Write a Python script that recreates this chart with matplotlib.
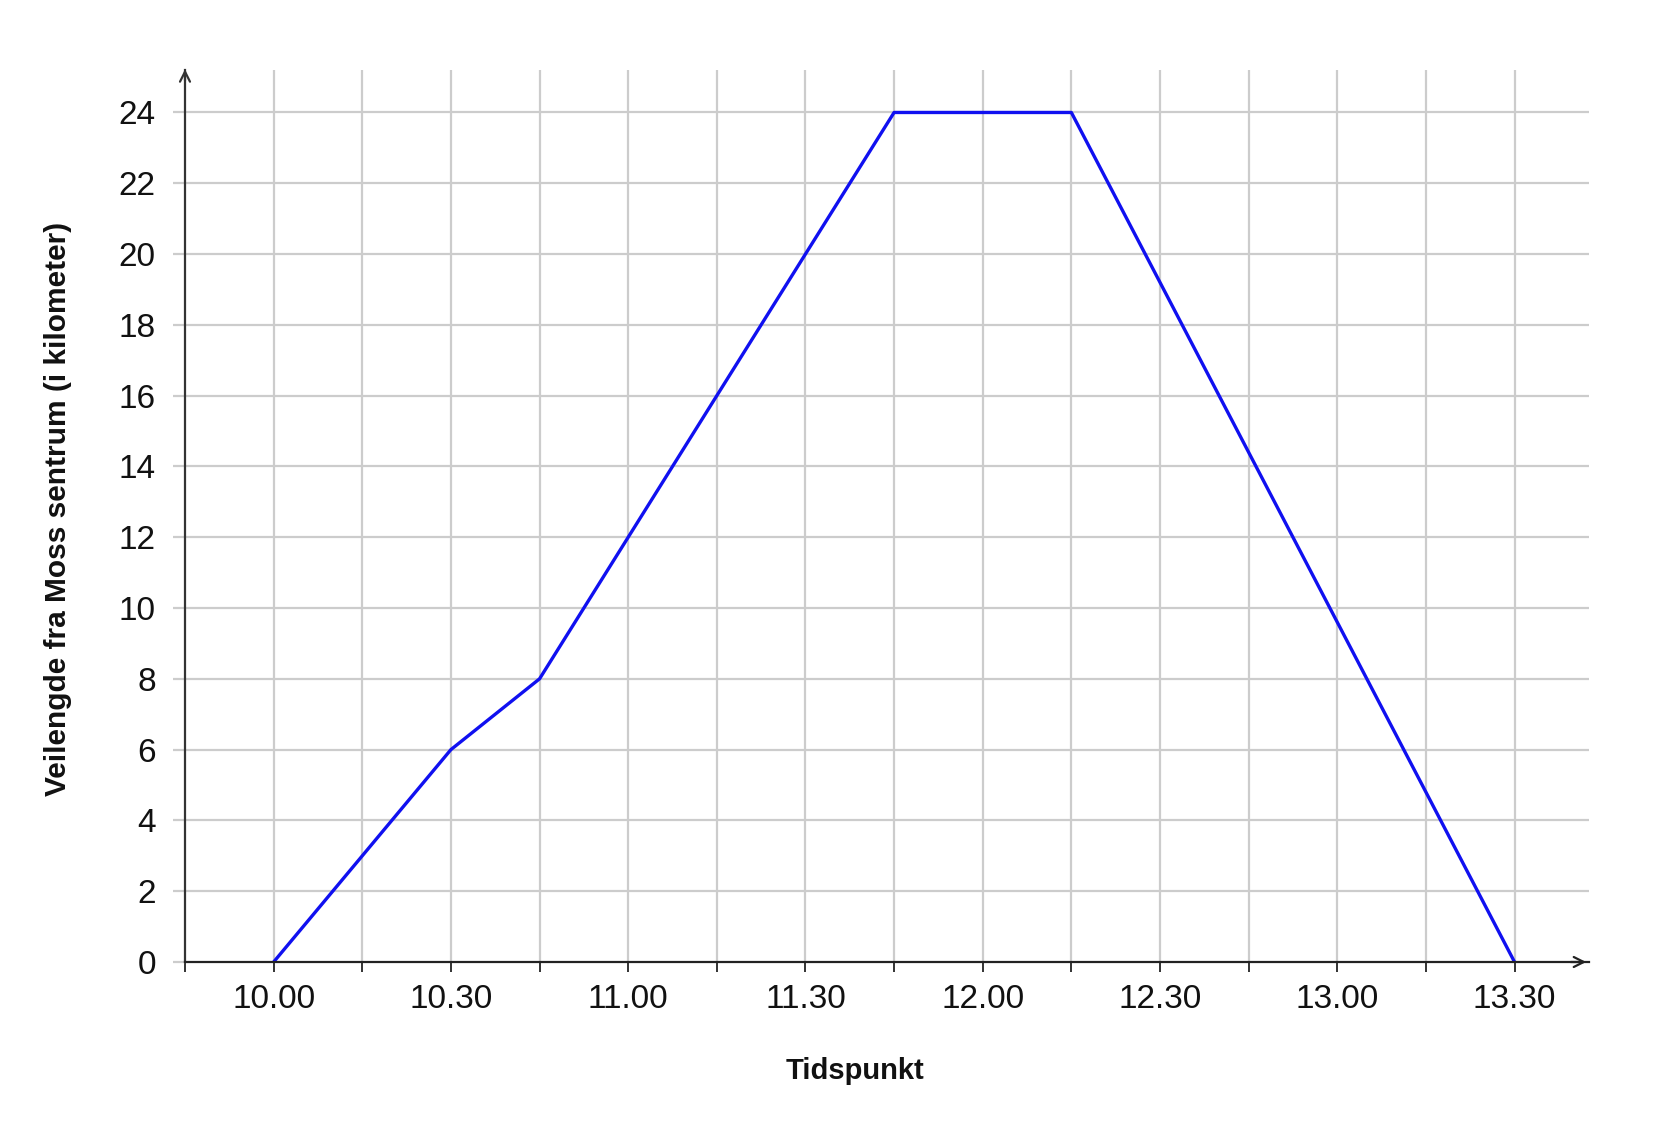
import matplotlib
matplotlib.use("Agg")
import matplotlib.pyplot as plt
import numpy as np

# Data
time_hours = [10.0, 10.5, 10.75, 11.75, 12.25, 13.5]
distance_km = [0, 6, 8, 24, 24, 0]
xtick_pos = [10.0, 10.5, 11.0, 11.5, 12.0, 12.5, 13.0, 13.5]
xtick_labels = ["10.00", "10.30", "11.00", "11.30", "12.00", "12.30", "13.00", "13.30"]
ytick_vals = list(range(0, 25, 2))

plt.rcParams['font.family'] = ['Liberation Sans', 'DejaVu Sans']

W, H = 1665, 1125
fig = plt.figure(figsize=(W/100, H/100), dpi=100)
fig.patch.set_facecolor('white')
left, right = 185/W, 1589/W
bottom, top = 1 - 962/H, 1 - 70/H
ax = fig.add_axes([left, bottom, right-left, top-bottom])

xmin, xmax = 9.75, 13.71
ymin, ymax = 0, 25.2
ax.set_xlim(xmin, xmax)
ax.set_ylim(ymin, ymax)

# grid
minor_x = np.arange(10.0, 13.51, 0.25)
for xv in minor_x:
    ax.axvline(xv, color='#cccccc', lw=1.6, zorder=1)
for yv in ytick_vals[1:]:
    ax.axhline(yv, color='#cccccc', lw=1.6, zorder=1)

ax.plot(time_hours, distance_km, color='#1010f0', lw=2.4, zorder=3, solid_capstyle='butt')

for s in ['top', 'right']:
    ax.spines[s].set_visible(False)
ax.spines['left'].set_color('#333333')
ax.spines['bottom'].set_color('#222222')
ax.spines['left'].set_linewidth(1.6)
ax.spines['bottom'].set_linewidth(1.6)
ax.spines['left'].set_zorder(4)
ax.spines['bottom'].set_zorder(4)

# arrows
ax.annotate('', xy=(1.0, 0), xytext=(0.985, 0), xycoords='axes fraction',
            arrowprops=dict(arrowstyle='->', color='#222222', lw=1.6, mutation_scale=18))
ax.annotate('', xy=(0, 1.004), xytext=(0, 0.985), xycoords='axes fraction',
            arrowprops=dict(arrowstyle='->', color='#333333', lw=1.6, mutation_scale=18))

all_x = np.arange(9.75, 13.51, 0.25)
labels = []
for v in all_x:
    lab = ""
    for p, t in zip(xtick_pos, xtick_labels):
        if abs(v - p) < 1e-6:
            lab = t
    labels.append(lab)
ax.set_xticks(all_x)
ax.set_xticklabels(labels)
ax.tick_params(axis='x', direction='out', length=7, width=1.4, color='#333333', pad=9, labelsize=24, labelcolor='#111111')

ax.set_yticks(ytick_vals)
ax.set_yticklabels([str(v) for v in ytick_vals])
ax.tick_params(axis='y', direction='out', length=9, width=1.6, color='#cccccc', pad=12, labelsize=24, labelcolor='#111111')

fig.text(58/W, 1 - 509/H, "Veilengde fra Moss sentrum (i kilometer)", rotation=90,
         ha='center', va='center', fontsize=21.5, fontweight='bold', color='#111111')
fig.text(855/W, 1 - 1071/H, "Tidspunkt", ha='center', va='center', fontsize=21,
         fontweight='bold', color='#111111')

fig.savefig('out.png', dpi=100, facecolor='white')
